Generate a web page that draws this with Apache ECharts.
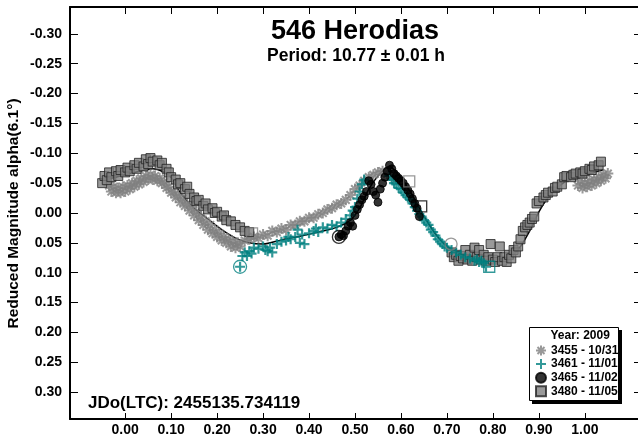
<!DOCTYPE html>
<html><head><meta charset="utf-8">
<script src="https://cdn.jsdelivr.net/npm/echarts@6/dist/echarts.min.js"></script>
<style>html,body{margin:0;padding:0;background:#fff}#c{width:638px;height:443px}</style>
</head><body><div id="c"></div>
<script>
// ---- tick labels ----
const xTicks = [0.00,0.10,0.20,0.30,0.40,0.50,0.60,0.70,0.80,0.90,1.00];
const yTicks = [-0.30,-0.25,-0.20,-0.15,-0.10,-0.05,0.00,0.05,0.10,0.15,0.20,0.25,0.30];

// ---- session 3455 (10/31) ----
const p3455 = [-0.035,-0.03,-0.025,-0.02,-0.015,-0.01,-0.005,0.0,0.005,0.01,0.015,0.02,0.025,0.03,0.035,0.04,0.045,0.05,0.055,0.06,0.065,0.07,0.075,0.08,0.085,0.09,0.095,0.10,0.105,0.11,0.115,0.12,0.125,0.13,0.135,0.14,0.145,0.15,0.155,0.16,0.165,0.17,0.175,0.18,0.185,0.19,0.195,0.20,0.205,0.21,0.215,0.22,0.225,0.23,0.235,0.24,0.245,0.25,0.26,0.27,0.28,0.29,0.30,0.31,0.32,0.33,0.34,0.35,0.36,0.37,0.38,0.39,0.40,0.41,0.42,0.43,0.44,0.45,0.46,0.47,0.48,0.49,0.50,0.51,0.52,0.53,0.54,0.55,0.56,0.57,0.58,0.59,0.985,0.99,0.995,1.0,1.005,1.01,1.015,1.02,1.025,1.03,1.035,1.04,1.045,1.05];
const m3455 = [-0.046,-0.036,-0.044,-0.034,-0.042,-0.034,-0.044,-0.036,-0.046,-0.040,-0.050,-0.044,-0.054,-0.048,-0.058,-0.052,-0.062,-0.056,-0.064,-0.056,-0.062,-0.054,-0.058,-0.050,-0.052,-0.042,-0.044,-0.034,-0.036,-0.026,-0.030,-0.018,-0.024,-0.012,-0.016,-0.004,-0.010,0.004,-0.002,0.012,0.006,0.020,0.014,0.028,0.020,0.034,0.028,0.040,0.034,0.046,0.040,0.050,0.044,0.056,0.048,0.058,0.050,0.056,0.046,0.044,0.040,0.042,0.036,0.038,0.030,0.032,0.026,0.028,0.020,0.020,0.014,0.014,0.008,0.008,0.002,0.000,-0.006,-0.008,-0.014,-0.016,-0.022,-0.030,-0.040,-0.046,-0.054,-0.060,-0.064,-0.068,-0.070,-0.066,-0.062,-0.056,-0.046,-0.054,-0.042,-0.050,-0.044,-0.054,-0.046,-0.056,-0.050,-0.060,-0.054,-0.064,-0.058,-0.066];

// ---- session 3461 (11/01) ----
const p3461 = [0.25,0.255,0.26,0.265,0.27,0.275,0.28,0.29,0.30,0.305,0.31,0.315,0.32,0.33,0.34,0.35,0.355,0.36,0.37,0.375,0.38,0.385,0.39,0.40,0.41,0.415,0.42,0.43,0.44,0.45,0.46,0.47,0.48,0.49,0.495,0.50,0.505,0.51,0.515,0.52,0.575,0.58,0.585,0.59,0.595,0.60,0.605,0.61,0.615,0.62,0.625,0.63,0.635,0.64,0.645,0.65,0.655,0.66,0.665,0.67,0.675,0.68,0.685,0.69,0.695,0.70,0.71,0.72,0.73,0.74,0.75,0.76,0.765,0.77,0.775,0.78,0.785];
const m3461 = [0.090,0.072,0.066,0.072,0.064,0.068,0.058,0.060,0.056,0.062,0.064,0.058,0.066,0.052,0.048,0.046,0.040,0.044,0.040,0.028,0.050,0.036,0.052,0.034,0.030,0.026,0.032,0.024,0.026,0.020,0.022,0.016,0.010,0.004,-0.004,-0.010,-0.024,-0.036,-0.048,-0.056,-0.062,-0.056,-0.050,-0.048,-0.042,-0.040,-0.034,-0.030,-0.026,-0.022,-0.016,-0.010,-0.004,0.002,0.006,0.012,0.016,0.020,0.028,0.032,0.038,0.044,0.048,0.052,0.056,0.058,0.062,0.066,0.070,0.074,0.076,0.080,0.078,0.082,0.080,0.084,0.090];

// ---- session 3465 (11/02) ----
const p3465 = [0.465,0.47,0.475,0.48,0.485,0.49,0.495,0.50,0.505,0.51,0.515,0.52,0.525,0.53,0.535,0.54,0.545,0.55,0.555,0.56,0.565,0.57,0.575,0.58,0.585,0.59,0.595,0.60,0.605,0.61,0.615,0.62,0.625,0.63,0.635,0.64];
const m3465 = [0.040,0.036,0.038,0.030,0.022,0.016,0.022,0.004,-0.006,-0.014,-0.022,-0.028,-0.036,-0.054,-0.048,-0.036,-0.030,-0.018,-0.040,-0.050,-0.060,-0.070,-0.080,-0.074,-0.066,-0.062,-0.058,-0.054,-0.050,-0.044,-0.038,-0.032,-0.024,-0.016,-0.008,0.006];

// ---- session 3480 (11/05) ----
const p3480 = [-0.05,-0.045,-0.04,-0.035,-0.03,-0.02,-0.015,-0.01,0.0,0.005,0.01,0.02,0.025,0.03,0.04,0.045,0.05,0.055,0.06,0.07,0.075,0.08,0.09,0.095,0.10,0.11,0.115,0.12,0.13,0.135,0.14,0.15,0.155,0.16,0.17,0.175,0.18,0.19,0.195,0.20,0.21,0.215,0.22,0.23,0.24,0.25,0.26,0.27,0.71,0.715,0.72,0.725,0.73,0.735,0.74,0.745,0.75,0.755,0.76,0.765,0.77,0.775,0.78,0.785,0.79,0.795,0.80,0.805,0.81,0.815,0.82,0.825,0.83,0.835,0.84,0.845,0.85,0.855,0.86,0.865,0.87,0.875,0.88,0.885,0.89,0.895,0.90,0.91,0.915,0.92,0.93,0.935,0.94,0.95,0.955,0.96,0.97,0.975,0.98,0.99,0.995,1.0,1.01,1.015,1.02,1.03,1.035];
const m3480 = [-0.050,-0.062,-0.055,-0.068,-0.060,-0.070,-0.062,-0.072,-0.068,-0.076,-0.070,-0.080,-0.074,-0.084,-0.078,-0.090,-0.082,-0.092,-0.086,-0.088,-0.080,-0.084,-0.074,-0.068,-0.060,-0.056,-0.048,-0.050,-0.040,-0.044,-0.032,-0.026,-0.020,-0.022,-0.012,-0.016,-0.006,-0.008,0.000,-0.002,0.006,0.004,0.012,0.014,0.020,0.024,0.030,0.032,0.066,0.074,0.070,0.080,0.072,0.076,0.062,0.078,0.070,0.080,0.058,0.074,0.062,0.078,0.070,0.080,0.074,0.052,0.078,0.082,0.074,0.056,0.080,0.074,0.082,0.070,0.076,0.062,0.066,0.056,0.044,0.030,0.024,0.020,0.016,0.010,0.006,-0.016,-0.020,-0.026,-0.030,-0.034,-0.036,-0.042,-0.044,-0.048,-0.060,-0.062,-0.060,-0.064,-0.066,-0.068,-0.066,-0.070,-0.074,-0.072,-0.078,-0.080,-0.086];

// ---- Fourier fit curve ----
const pFit = [-0.05,-0.02,0.0,0.03,0.06,0.08,0.10,0.12,0.15,0.18,0.21,0.24,0.27,0.30,0.34,0.38,0.42,0.46,0.49,0.51,0.53,0.55,0.575,0.60,0.62,0.64,0.66,0.68,0.70,0.73,0.76,0.79,0.82,0.84,0.86,0.88,0.90,0.92,0.94,0.96,0.98,1.00,1.02,1.04];
const mFit = [-0.055,-0.060,-0.064,-0.070,-0.074,-0.070,-0.060,-0.034,-0.008,0.010,0.028,0.042,0.050,0.052,0.045,0.039,0.032,0.024,0.012,-0.008,-0.040,-0.062,-0.078,-0.058,-0.036,-0.008,0.018,0.040,0.056,0.070,0.076,0.078,0.076,0.072,0.056,0.030,-0.002,-0.026,-0.042,-0.054,-0.060,-0.064,-0.068,-0.072];

// ---- first/last point marks of sessions ----
const markTealCircleP = [0.250], markTealCircleM = [0.090];
const markBlackCircleP = [0.465], markBlackCircleM = [0.040];
const markGrayCircleP = [0.709], markGrayCircleM = [0.052];
const markGraySquareP = [0.276, 0.618], markGraySquareM = [0.034, -0.053];
const markBlackSquareP = [0.644], markBlackSquareM = [-0.011];
const markTealSquareP = [0.792], markTealSquareM = [0.090];

const names = ['3455 - 10/31','3461 - 11/01','3465 - 11/02','3480 - 11/05'];

const zip = (a,b) => a.map((v,i)=>[v,b[i]]);
const FONT = 'Liberation Sans, Arial, sans-serif';
const GRAY = '#808080', TEAL = '#008080';
const ASTER = 'path://M0,5L10,5M5,0L5,10M1.5,1.5L8.5,8.5M8.5,1.5L1.5,8.5';
const PLUS = 'path://M5,0L5,10M0,5L10,5';
const fmt = v => (Math.abs(v) < 1e-9 ? 0 : v).toFixed(2);

const xRange = {min:-0.12, max:1.12};
const yRange = {min:-0.345, max:0.345};

function markSeries(p, m, sym, size, col){
  return {type:'scatter', data: zip(p,m), symbol: sym, symbolSize: size, silent:true,
    itemStyle:{color:'rgba(0,0,0,0)', borderColor:col, borderWidth:1.3}, z:6};
}

const chart = echarts.init(document.getElementById('c'), null, {renderer:'canvas'});
chart.setOption({
  animation:false,
  backgroundColor:'#fff',
  textStyle:{fontFamily:FONT},
  grid:{left:70, top:7, width:570, height:412, containLabel:false, outerBoundsMode:'none'},
  xAxis:[
    {type:'value', position:'bottom', ...xRange,
     axisLine:{onZero:false, lineStyle:{color:'#000', width:2}},
     axisTick:{inside:true, length:6, customValues:xTicks, lineStyle:{color:'#000', width:1}},
     axisLabel:{customValues:xTicks, formatter:fmt, color:'#000', fontWeight:'bold', fontSize:14, fontFamily:FONT, margin:4},
     splitLine:{show:false}},
    {type:'value', position:'top', ...xRange,
     axisLine:{onZero:false, lineStyle:{color:'#000', width:2}},
     axisTick:{inside:true, length:7, customValues:xTicks, lineStyle:{color:'#000', width:1}},
     axisLabel:{show:false}, splitLine:{show:false}}
  ],
  yAxis:[
    {type:'value', position:'left', inverse:true, ...yRange,
     axisLine:{onZero:false, lineStyle:{color:'#000', width:2}},
     axisTick:{inside:true, length:8, customValues:yTicks, lineStyle:{color:'#000', width:1}},
     axisLabel:{customValues:yTicks, formatter:fmt, color:'#000', fontWeight:'bold', fontSize:14, fontFamily:FONT, margin:8},
     splitLine:{show:false}},
    {type:'value', position:'right', inverse:true, ...yRange,
     axisLine:{onZero:false, lineStyle:{color:'#000', width:2}},
     axisTick:{inside:true, length:6, customValues:yTicks, lineStyle:{color:'#000', width:1}},
     axisLabel:{show:false}, splitLine:{show:false}}
  ],
  legend:{
    data:names, orient:'vertical', left:535, top:344.5, itemWidth:10, itemHeight:10, itemGap:1.6,
    padding:0, selectedMode:false,
    textStyle:{color:'#000', fontWeight:'bold', fontSize:12, fontFamily:FONT}
  },
  graphic:[
    {type:'rect', shape:{x:532, y:330, width:90, height:74}, style:{fill:'#000'}, z:1, silent:true},
    {type:'rect', shape:{x:529.5, y:327.5, width:89, height:73}, style:{fill:'#fff', stroke:'#000', lineWidth:1}, z:1, silent:true},
    {type:'text', x:550.5, y:336, z:3, style:{text:'Year: 2009', fontSize:12, fontWeight:'bold', fontFamily:FONT, fill:'#000', align:'left', verticalAlign:'middle'}},
    {type:'text', x:355, y:32, z:3, style:{text:'546 Herodias', fontSize:27, fontWeight:'bold', fontFamily:FONT, fill:'#000', align:'center', verticalAlign:'middle'}},
    {type:'text', x:356, y:56, z:3, style:{text:'Period: 10.77 \u00b1 0.01 h', fontSize:17.5, fontWeight:'bold', fontFamily:FONT, fill:'#000', align:'center', verticalAlign:'middle'}},
    {type:'text', x:88, y:403, z:3, style:{text:'JDo(LTC): 2455135.734119', fontSize:17, fontWeight:'bold', fontFamily:FONT, fill:'#000', align:'left', verticalAlign:'middle'}},
    {type:'text', x:14, y:213.5, rotation:Math.PI/2, z:3, style:{text:'Reduced Magnitude alpha(6.1\u00b0)', fontSize:15.5, fontWeight:'bold', fontFamily:FONT, fill:'#000', align:'center', verticalAlign:'middle'}}
  ],
  series:[
    {name:'fit', type:'line', data:zip(pFit,mFit), smooth:0.3, showSymbol:false, symbol:'none',
     lineStyle:{color:'#000', width:1.5}, z:2, silent:true},
    {name:names[0], type:'scatter', data:zip(p3455,m3455), symbol:ASTER, symbolSize:11,
     itemStyle:{color:GRAY, borderColor:GRAY, borderWidth:2}, z:3},
    {name:names[3], type:'scatter', data:zip(p3480,m3480), symbol:'rect', symbolSize:9,
     itemStyle:{color:GRAY, borderColor:'#222', borderWidth:1}, z:3},
    {name:names[1], type:'scatter', data:zip(p3461,m3461), symbol:PLUS, symbolSize:10,
     itemStyle:{color:TEAL, borderColor:TEAL, borderWidth:2.2}, z:5},
    {name:names[2], type:'scatter', data:zip(p3465,m3465), symbol:'circle', symbolSize:8,
     itemStyle:{color:'#000', borderColor:'#000', borderWidth:1}, z:5},
    markSeries(markTealCircleP, markTealCircleM, 'circle', 13, TEAL),
    markSeries(markBlackCircleP, markBlackCircleM, 'circle', 13, '#000'),
    markSeries(markGrayCircleP, markGrayCircleM, 'circle', 12, GRAY),
    markSeries(markGraySquareP, markGraySquareM, 'rect', 11, GRAY),
    markSeries(markBlackSquareP, markBlackSquareM, 'rect', 11, '#000'),
    markSeries(markTealSquareP, markTealSquareM, 'rect', 11, TEAL)
  ]
});
</script></body></html>
